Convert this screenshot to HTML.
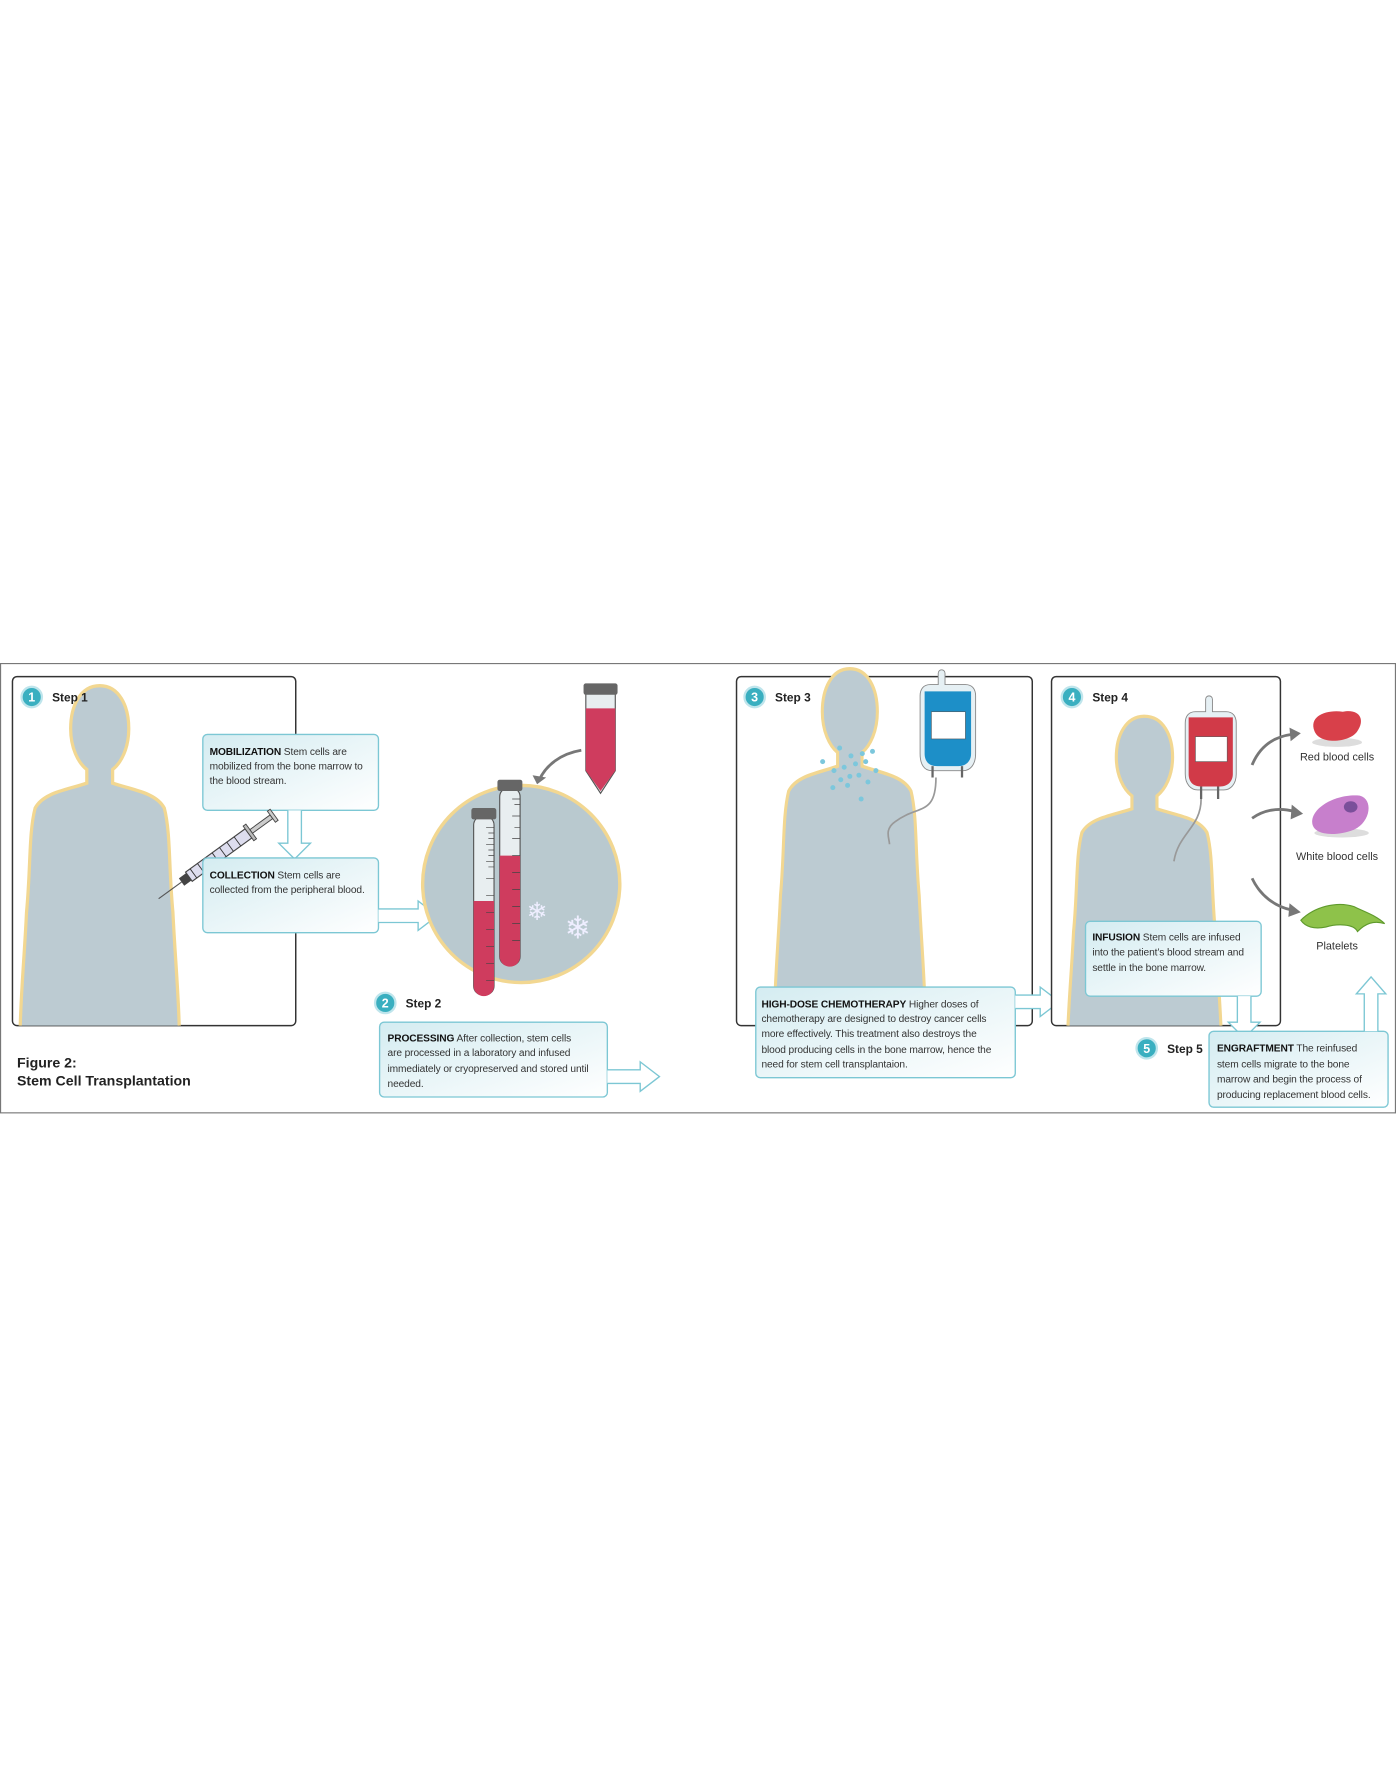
<!DOCTYPE html>
<html><head><meta charset="utf-8"><style>
html,body{margin:0;padding:0;background:#fff;}
svg{display:block;}
text{font-family:"Liberation Sans",sans-serif;}
.t{font-size:9px;fill:#333;letter-spacing:-0.1px;}
.b{font-weight:bold;fill:#111;}
.st{font-size:10.5px;font-weight:bold;fill:#222;}
.num{font-size:11px;font-weight:bold;fill:#fff;}
.lbl{font-size:9.6px;fill:#333;}
</style></head><body>
<svg width="1396" height="1777" viewBox="0 0 1232 1568" xmlns="http://www.w3.org/2000/svg">
<defs>
<linearGradient id="bx" x1="0" y1="0" x2="1" y2="1"><stop offset="0" stop-color="#d4ecf1"/><stop offset="1" stop-color="#ffffff"/></linearGradient>
<g id="person">
<path d="M0,0 C-18,0 -27,18 -27,38 C-27,55 -20,68 -12,74 L-12,86 C-30,92 -52,94 -60,108 C-66,130 -64,160 -68,200 C-70,240 -74,280 -74,310 L74,310 C74,280 70,240 68,200 C64,160 66,130 60,108 C52,94 30,92 12,86 L12,74 C20,68 27,55 27,38 C27,18 18,0 0,0 Z"/>
</g>
<clipPath id="c1"><rect x="11" y="597" width="250" height="308" rx="4"/></clipPath>
<clipPath id="c3"><rect x="560" y="560" width="351" height="345"/></clipPath>
<clipPath id="c4"><rect x="928" y="597" width="202" height="308" rx="4"/></clipPath>
</defs>

<rect x="0.5" y="585.5" width="1231" height="396.5" fill="#fff" stroke="#777" stroke-width="1"/>

<!-- Box1 -->
<rect x="11" y="597" width="250" height="308" rx="4" fill="#fff" stroke="#333" stroke-width="1.3"/>
<g clip-path="url(#c1)" fill="#bccbd2" stroke="#f2d791" stroke-width="3">
<use href="#person" transform="translate(88,605) scale(0.95,1)"/>
</g>
<circle cx="28" cy="615" r="9" fill="#3aafc0" stroke="#bfe5ec" stroke-width="2"/><text x="28" y="619" text-anchor="middle" class="num">1</text>
<text x="46" y="619" class="st">Step 1</text>

<rect x="179" y="648" width="155" height="67" rx="4" fill="url(#bx)" stroke="#7cc7d4" stroke-width="1.2"/>
<text x="185" y="666" class="t"><tspan class="b">MOBILIZATION</tspan> Stem cells are</text>
<text x="185" y="679" class="t">mobilized from the bone marrow to</text>
<text x="185" y="692" class="t">the blood stream.</text>
<path d="M254,715 L254,744 L246,744 L260,758 L274,744 L266,744 L266,715" fill="#fff" stroke="#7cc7d4" stroke-width="1.2"/>
<g transform="translate(140,793) rotate(-36)">
<line x1="0" y1="0" x2="25" y2="0" stroke="#555" stroke-width="1"/>
<rect x="25" y="-4" width="8" height="8" fill="#444"/>
<rect x="33" y="-5" width="65" height="10" fill="#dde" stroke="#444" stroke-width="1"/>
<path d="M38,-5 V5 M46,-5 V5 M54,-5 V5 M62,-5 V5 M70,-5 V5 M78,-5 V5 M86,-5 V5" stroke="#333" stroke-width="0.8"/>
<rect x="98" y="-8" width="3" height="16" fill="#bbb" stroke="#444" stroke-width="0.8"/>
<rect x="101" y="-2" width="22" height="4" fill="#ccc" stroke="#444" stroke-width="0.8"/>
<rect x="123" y="-6" width="3" height="12" fill="#ccc" stroke="#444" stroke-width="0.8"/>
</g>
<rect x="179" y="757" width="155" height="66" rx="4" fill="url(#bx)" stroke="#7cc7d4" stroke-width="1.2"/>
<text x="185" y="775" class="t"><tspan class="b">COLLECTION</tspan> Stem cells are</text>
<text x="185" y="788" class="t">collected from the peripheral blood.</text>
<path d="M334,802 L369,802 L369,795 L386,808 L369,821 L369,814 L334,814" fill="#fff" stroke="#7cc7d4" stroke-width="1.2"/>

<circle cx="460" cy="780" r="87" fill="#b9c9cf" stroke="#f2d791" stroke-width="3"/>
<g>
<rect x="418" y="720" width="18" height="158" rx="8" fill="#e8eef0" stroke="#555" stroke-width="1"/>
<path d="M418,795 H436 V870 A9,9 0 0 1 418,870 Z" fill="#cf3c5e"/>
<rect x="416" y="713" width="22" height="10" rx="2" fill="#666"/>
<rect x="441" y="695" width="18" height="157" rx="8" fill="#e8eef0" stroke="#555" stroke-width="1"/>
<path d="M441,755 H459 V844 A9,9 0 0 1 441,844 Z" fill="#cf3c5e"/>
<rect x="439" y="688" width="22" height="10" rx="2" fill="#666"/>
<g stroke="#444" stroke-width="0.6">
<path d="M429,730 H436 M431,735 H436 M431,740 H436 M429,745 H436 M431,750 H436 M431,755 H436 M429,760 H436 M431,765 H436 M429,775 H436 M429,790 H436 M429,805 H436 M429,820 H436 M429,835 H436 M429,850 H436 M429,865 H436"/>
<path d="M452,705 H459 M454,710 H459 M452,720 H459 M454,730 H459 M452,740 H459 M452,755 H459 M452,770 H459 M452,785 H459 M452,800 H459 M452,815 H459 M452,830 H459"/>
</g>
</g>
<text x="474" y="812" font-size="22" fill="#eef" text-anchor="middle">❄</text>
<text x="510" y="828" font-size="28" fill="#eef" text-anchor="middle">❄</text>
<path d="M517,612 H543 V680 L530,700 L517,680 Z" fill="#e8eef0" stroke="#555" stroke-width="1"/>
<path d="M517,625 H543 V680 L530,698 L517,680 Z" fill="#cf3c5e"/>
<rect x="515" y="603" width="30" height="10" rx="2" fill="#666"/>
<path d="M513,662 C495,665 482,675 476,688" fill="none" stroke="#777" stroke-width="2.5"/>
<path d="M470,684 L474,692 L482,686 Z" fill="#777"/>

<circle cx="340" cy="885" r="9" fill="#3aafc0" stroke="#bfe5ec" stroke-width="2"/><text x="340" y="889" text-anchor="middle" class="num">2</text>
<text x="358" y="889" class="st">Step 2</text>
<rect x="335" y="902" width="201" height="66" rx="4" fill="url(#bx)" stroke="#7cc7d4" stroke-width="1.2"/>
<text x="342" y="919" class="t"><tspan class="b">PROCESSING</tspan> After collection, stem cells</text>
<text x="342" y="932" class="t">are processed in a laboratory and infused</text>
<text x="342" y="946" class="t">immediately or cryopreserved and stored until</text>
<text x="342" y="959" class="t">needed.</text>
<path d="M536,944 L565,944 L565,937 L582,950 L565,963 L565,956 L536,956" fill="#fff" stroke="#7cc7d4" stroke-width="1.2"/>

<text x="15" y="942" font-size="12.5" font-weight="bold" fill="#222">Figure 2:</text>
<text x="15" y="958" font-size="12.5" font-weight="bold" fill="#222">Stem Cell Transplantation</text>

<!-- Box3 -->
<rect x="650" y="597" width="261" height="308" rx="4" fill="#fff" stroke="#333" stroke-width="1.3"/>
<g clip-path="url(#c3)" fill="#bccbd2" stroke="#f2d791" stroke-width="3">
<use href="#person" transform="translate(750,590) scale(0.9,1)"/>
</g>
<g fill="#7cc7dc">
<circle cx="741" cy="660" r="2.2"/><circle cx="726" cy="672" r="2.2"/><circle cx="751" cy="667" r="2.2"/><circle cx="761" cy="665" r="2.2"/><circle cx="770" cy="663" r="2.2"/>
<circle cx="736" cy="680" r="2.2"/><circle cx="745" cy="677" r="2.2"/><circle cx="755" cy="674" r="2.2"/><circle cx="764" cy="672" r="2.2"/><circle cx="773" cy="680" r="2.2"/>
<circle cx="742" cy="688" r="2.2"/><circle cx="750" cy="685" r="2.2"/><circle cx="758" cy="684" r="2.2"/><circle cx="766" cy="690" r="2.2"/><circle cx="735" cy="695" r="2.2"/><circle cx="760" cy="705" r="2.2"/><circle cx="748" cy="693" r="2.2"/>
</g>
<path d="M828,594 a3,3 0 1 1 6,0 L834,604 H852 C858,604 861,608 861,614 V665 C861,675 856,680 850,680 H822 C816,680 812,675 812,665 V614 C812,608 815,604 821,604 H828 Z" fill="#e6f0f4" stroke="#888" stroke-width="0.8"/>
<path d="M816,610 H857 V665 C857,672 852,676 846,676 H827 C820,676 816,672 816,665 Z" fill="#1d8fc8"/>
<rect x="822" y="628" width="30" height="24" fill="#fff" stroke="#555" stroke-width="0.5"/>
<path d="M823,676 V686 M849,676 V686" stroke="#666" stroke-width="2"/>
<path d="M826,686 C826,720 810,710 790,725 C780,732 785,740 785,745" fill="none" stroke="#999" stroke-width="1.5"/>
<circle cx="666" cy="615" r="9" fill="#3aafc0" stroke="#bfe5ec" stroke-width="2"/><text x="666" y="619" text-anchor="middle" class="num">3</text>
<text x="684" y="619" class="st">Step 3</text>
<rect x="667" y="871" width="229" height="80" rx="4" fill="url(#bx)" stroke="#7cc7d4" stroke-width="1.2"/>
<text x="672" y="889" class="t"><tspan class="b">HIGH-DOSE CHEMOTHERAPY</tspan> Higher doses of</text>
<text x="672" y="902" class="t">chemotherapy are designed to destroy cancer cells</text>
<text x="672" y="915" class="t">more effectively. This treatment also destroys the</text>
<text x="672" y="929" class="t">blood producing cells in the bone marrow, hence the</text>
<text x="672" y="942" class="t">need for stem cell transplantaion.</text>
<path d="M896,878 L918,878 L918,871 L935,884 L918,897 L918,890 L896,890" fill="#fff" stroke="#7cc7d4" stroke-width="1.2"/>

<!-- Box4 -->
<rect x="928" y="597" width="202" height="308" rx="4" fill="#fff" stroke="#333" stroke-width="1.3"/>
<g clip-path="url(#c4)" fill="#bccbd2" stroke="#f2d791" stroke-width="3">
<use href="#person" transform="translate(1010,632) scale(0.92,0.95)"/>
</g>
<path d="M1064,617 a3,3 0 1 1 6,0 L1070,628 H1082 C1088,628 1091,632 1091,638 V683 C1091,692 1086,697 1080,697 H1057 C1051,697 1046,692 1046,683 V638 C1046,632 1049,628 1055,628 H1064 Z" fill="#e6f0f4" stroke="#888" stroke-width="0.8"/>
<path d="M1049,633 H1088 V683 C1088,690 1083,694 1077,694 H1060 C1053,694 1049,690 1049,683 Z" fill="#d13a48"/>
<rect x="1055" y="650" width="28" height="22" fill="#fff" stroke="#555" stroke-width="0.5"/>
<path d="M1060,694 V705 M1075,694 V705" stroke="#666" stroke-width="2"/>
<path d="M1060,705 C1060,730 1040,735 1036,760" fill="none" stroke="#999" stroke-width="1.5"/>
<circle cx="946" cy="615" r="9" fill="#3aafc0" stroke="#bfe5ec" stroke-width="2"/><text x="946" y="619" text-anchor="middle" class="num">4</text>
<text x="964" y="619" class="st">Step 4</text>
<rect x="958" y="813" width="155" height="66" rx="4" fill="url(#bx)" stroke="#7cc7d4" stroke-width="1.2"/>
<text x="964" y="830" class="t"><tspan class="b">INFUSION</tspan> Stem cells are infused</text>
<text x="964" y="843" class="t">into the patient’s blood stream and</text>
<text x="964" y="857" class="t">settle in the bone marrow.</text>
<path d="M1092,879 L1092,902 L1084,902 L1098,916 L1112,902 L1104,902 L1104,879" fill="#fff" stroke="#7cc7d4" stroke-width="1.2"/>

<path d="M1105,675 C1112,658 1125,650 1140,648" fill="none" stroke="#777" stroke-width="2.5"/><path d="M1138,642 L1148,647 L1139,654 Z" fill="#777"/>
<path d="M1105,722 C1115,715 1128,712 1142,716" fill="none" stroke="#777" stroke-width="2.5"/><path d="M1140,710 L1150,718 L1139,723 Z" fill="#777"/>
<path d="M1105,775 C1112,790 1125,800 1140,803" fill="none" stroke="#777" stroke-width="2.5"/><path d="M1138,797 L1148,805 L1137,809 Z" fill="#777"/>
<ellipse cx="1180" cy="655" rx="22" ry="4" fill="#ddd"/>
<path d="M1160,645 C1155,632 1170,626 1185,628 C1200,625 1205,635 1198,645 C1192,655 1165,658 1160,645 Z" fill="#d8404a"/>
<ellipse cx="1184" cy="735" rx="24" ry="4" fill="#ddd"/>
<path d="M1158,725 C1158,712 1180,700 1200,702 C1212,705 1210,725 1195,732 C1180,738 1158,738 1158,725 Z" fill="#c77fcc"/>
<ellipse cx="1192" cy="712" rx="6" ry="5" fill="#7a4f9a"/>
<path d="M1148,812 C1160,800 1180,795 1195,800 C1205,805 1215,808 1222,815 C1212,812 1205,815 1198,822 C1195,815 1180,815 1170,818 C1160,820 1152,818 1148,812 Z" fill="#8ec24a" stroke="#5f9a2c" stroke-width="1"/>
<text x="1180" y="671" text-anchor="middle" class="lbl">Red blood cells</text>
<text x="1180" y="759" text-anchor="middle" class="lbl">White blood cells</text>
<text x="1180" y="838" text-anchor="middle" class="lbl">Platelets</text>

<circle cx="1012" cy="925" r="9" fill="#3aafc0" stroke="#bfe5ec" stroke-width="2"/><text x="1012" y="929" text-anchor="middle" class="num">5</text>
<text x="1030" y="929" class="st">Step 5</text>
<rect x="1067" y="910" width="158" height="67" rx="4" fill="url(#bx)" stroke="#7cc7d4" stroke-width="1.2"/>
<text x="1074" y="928" class="t"><tspan class="b">ENGRAFTMENT</tspan> The reinfused</text>
<text x="1074" y="942" class="t">stem cells migrate to the bone</text>
<text x="1074" y="955" class="t">marrow and begin the process of</text>
<text x="1074" y="969" class="t">producing replacement blood cells.</text>
<path d="M1204,910 L1204,877 L1197,877 L1210,862 L1223,877 L1216,877 L1216,910" fill="#fff" stroke="#7cc7d4" stroke-width="1.2"/>
</svg>
</body></html>
